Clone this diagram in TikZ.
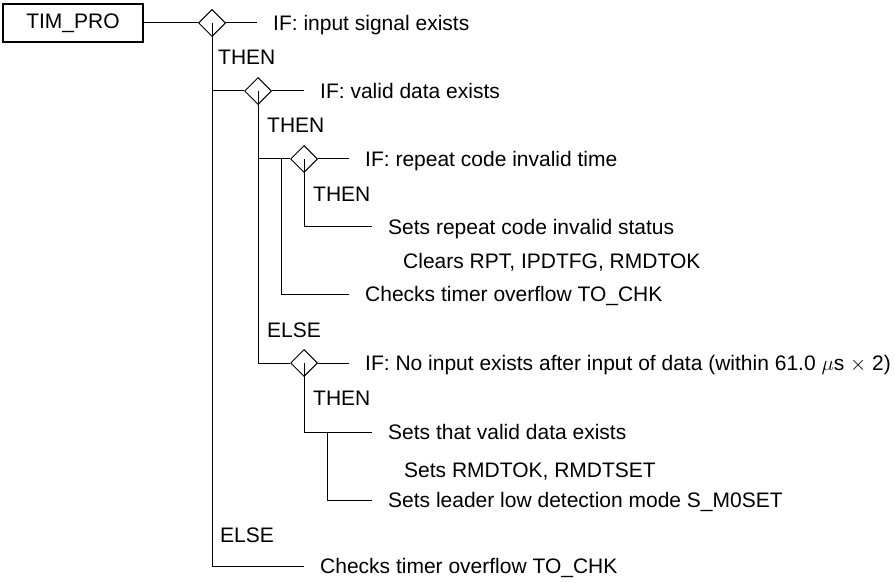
\documentclass[tikz,border=0pt]{standalone}
\usepackage{fontspec}
\setmainfont{Liberation Sans}
\usetikzlibrary{shapes.geometric}

\begin{document}
\begin{tikzpicture}[
  x=1pt, y=-1pt,
  every node/.style={font=\fontsize{21}{25}\selectfont},
  box/.style={draw, line width=2.4pt, minimum width=140pt, minimum height=38pt, inner sep=0pt},
  dia/.style={draw, diamond, line width=1pt, minimum width=27pt, minimum height=27pt, inner sep=0pt},
  txt/.style={anchor=west, inner sep=0pt, text height=15pt, text depth=0pt},
  wire/.style={line width=1pt},
  lead/.style={wire, shorten >=16pt}
]
  \useasboundingbox (0,0) rectangle (895,583);

  % Level 1: TIM_PRO
  \node[box] (timpro) at (73,23) {TIM\_PRO};
  \node[dia] (d1) at (212,23) {};
  \node[txt] (t1) at (273,23) {IF: input signal exists};
  \node[txt] (then1) at (218,57.5) {THEN};

  % Level 2: valid data
  \node[dia] (d2) at (258,91) {};
  \node[txt] (t2) at (320,91) {IF: valid data exists};
  \node[txt] (then2) at (267,125.5) {THEN};

  % Level 3: repeat code
  \node[dia] (d3) at (304,159) {};
  \node[txt] (t3) at (365,159) {IF: repeat code invalid time};
  \node[txt] (then3) at (313,193.5) {THEN};
  \node[txt] (t4) at (388,227) {Sets repeat code invalid status};
  \node[txt] (clr) at (403,261) {Clears RPT, IPDTFG, RMDTOK};
  \node[txt] (t5) at (365,294) {Checks timer overflow TO\_CHK};
  \coordinate (b3) at (281,159);

  % Level 3: no input after data
  \node[txt] (else1) at (267,329.5) {ELSE};
  \node[dia] (d4) at (304,363) {};
  \node[txt] (t6) at (365,363) {IF: No input exists after input of data (within 61.0 $\mu$s $\times$ 2)};
  \node[txt] (then4) at (313,397.5) {THEN};
  \node[txt] (t7) at (388,432) {Sets that valid data exists};
  \node[txt] (rmd) at (404,470) {Sets RMDTOK, RMDTSET};
  \node[txt] (t8) at (388,500) {Sets leader low detection mode S\_M0SET};
  \coordinate (b4) at (327,432);

  % Level 1: else branch
  \node[txt] (else2) at (220,534.5) {ELSE};
  \node[txt] (t9) at (320,566) {Checks timer overflow TO\_CHK};

  % Connectors
  \draw[wire] (timpro.east) -- (d1.west);
  \draw[lead] (d1.east) -- (t1.west);
  \draw[lead] (d1.center) |- (t9.west);
  \draw[wire] (d1.center |- d2.west) -- (d2.west);
  \draw[lead] (d2.east) -- (t2.west);
  \draw[wire] (d2.center) |- (d4.west);
  \draw[wire] (d2.center |- d3.west) -- (d3.west);
  \draw[lead] (d3.east) -- (t3.west);
  \draw[lead] (d3.center) |- (t4.west);
  \draw[lead] (b3) |- (t5.west);
  \draw[lead] (d4.east) -- (t6.west);
  \draw[lead] (d4.center) |- (t7.west);
  \draw[lead] (b4) |- (t8.west);
\end{tikzpicture}
\end{document}
